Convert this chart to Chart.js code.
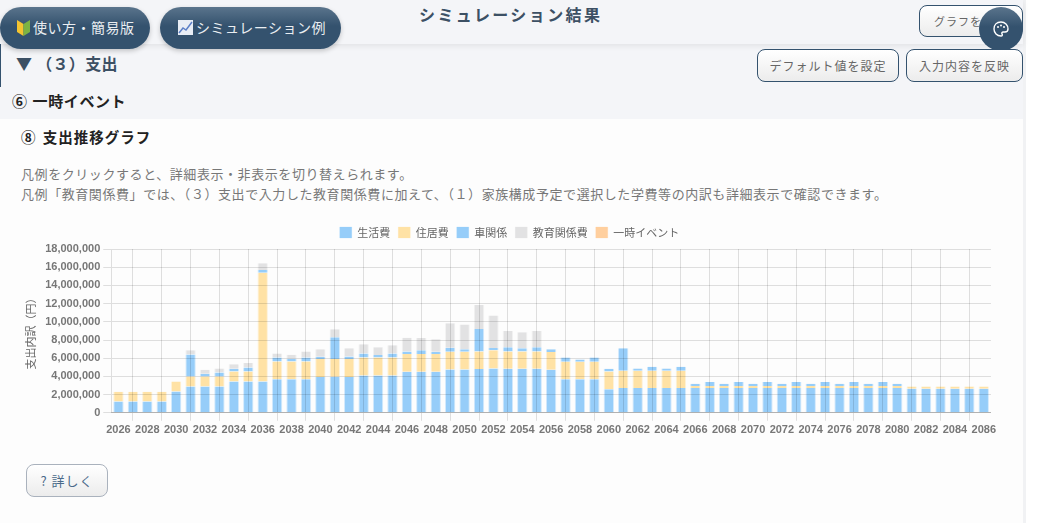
<!DOCTYPE html>
<html lang="ja">
<head>
<meta charset="utf-8">
<script src="https://cdn.jsdelivr.net/npm/chart.js@4"></script>
<style>
html, body { margin: 0; padding: 0; background: #fff; overflow: hidden; }
body { width: 1049px; height: 523px; position: relative; font-family: "Noto Sans CJK JP", sans-serif; }
.abs { position: absolute; white-space: nowrap; }
#main { left: 0; top: 0; width: 1023px; height: 523px; background: #f4f5f8; }
#card { left: 0; top: 119px; width: 1023px; height: 404px; background: #fdfdfd; }
#strip { left: 1023px; top: 0; width: 3px; height: 523px; background: #f1f2f4; }
#header { left: 0; top: 0; width: 1023px; height: 44px; background: #f4f5f8; box-shadow: 0 2px 6px rgba(0,0,0,0.08); }
.pill { height: 42px; line-height: 40px; border-radius: 21px; color: #e9edf1; font-size: 14px; letter-spacing: .5px;
  background: linear-gradient(#5a748c, #34526e 45%, #34526e); box-shadow: 0 2px 5px rgba(0,0,0,0.2); box-sizing: border-box; }
.btn { box-sizing: border-box; border: 1px solid #34526e; border-radius: 8px; color: #666; font-size: 12px; letter-spacing: 1px; text-align: center;
  background: linear-gradient(#fff, #ececec); }
#title { left: 419px; top: 2px; font-size: 16px; font-weight: 700; letter-spacing: 2.4px; color: #3c5064; }
#sec { left: 16px; top: 51px; font-size: 16px; font-weight: 700; color: #3c5064; letter-spacing: .3px; }
#secline { left: 0; top: 44px; width: 1px; height: 43px; background: #34526e; }
#h6 { left: 12px; top: 90px; font-size: 15px; font-weight: 700; color: #222; letter-spacing: .6px; word-spacing: 1px; }
#h8 { left: 21px; top: 126px; font-size: 14.5px; font-weight: 700; color: #222; letter-spacing: 1px; word-spacing: 2px; }
.note { left: 21px; font-size: 13px; color: #777; letter-spacing: .57px; }
#chartBox { left: 20px; top: 219px; width: 979px; height: 221px; }
#palette { left: 979px; top: 7px; width: 44px; height: 44px; border-radius: 22px; background: linear-gradient(#5a748c, #34526e 45%); }
</style>
</head>
<body>
<div class="abs" id="main"></div>
<div class="abs" id="card"></div>
<div class="abs" id="strip"></div>
<div class="abs" id="header"></div>
<div class="abs" id="secline"></div>

<div class="abs pill" style="left:0;top:7px;width:150px;padding-left:33px;">使い方・簡易版</div>
<svg class="abs" style="left:17px;top:20px" width="13" height="16" viewBox="0 0 13 16">
  <path d="M0 0 L6.5 4 L6.5 16 L0 12 Z" fill="#f4c430"/><path d="M13 0 L6.5 4 L6.5 16 L13 12 Z" fill="#7cb342"/>
</svg>
<div class="abs pill" style="left:160px;top:7px;width:181px;padding-left:36px;">シミュレーション例</div>
<svg class="abs" style="left:178px;top:20px" width="15" height="15" viewBox="0 0 15 15">
  <rect width="15" height="15" fill="#e8edf5"/><path d="M1 13 L5 8 L8 10 L14 2" fill="none" stroke="#5b7fc7" stroke-width="1.5"/>
</svg>
<div class="abs" id="title">シミュレーション結果</div>

<div class="abs btn" style="left:919px;top:5px;width:104px;height:32px;line-height:30px;text-align:left;padding-left:14px;font-size:11px;">グラフを表示</div>
<div class="abs" id="palette"></div>
<svg class="abs" style="left:992px;top:20px" width="18" height="18" viewBox="0 0 18 18">
  <path d="M9 2 C4.6 2 2 5 2 9 C2 13 5 16 9 16 C10.5 16 10.6 14.8 10 14 C9.4 13 10 12 11.2 12 L13 12 C15 12 16 10.6 16 9 C16 5 13 2 9 2 Z" fill="none" stroke="#fff" stroke-width="1.4"/>
  <circle cx="6" cy="7" r="1" fill="#fff"/><circle cx="9" cy="5.4" r="1" fill="#fff"/><circle cx="12" cy="7" r="1" fill="#fff"/>
</svg>

<div class="abs" id="sec">▼ （３）支出</div>
<div class="abs btn" style="left:757px;top:49px;width:142px;height:33px;line-height:31px;">デフォルト値を設定</div>
<div class="abs btn" style="left:906px;top:49px;width:117px;height:33px;line-height:31px;">入力内容を反映</div>
<div class="abs" id="h6">⑥ 一時イベント</div>
<div class="abs" id="h8">⑧ 支出推移グラフ</div>
<div class="abs note" style="top:164px;">凡例をクリックすると、詳細表示・非表示を切り替えられます。</div>
<div class="abs note" style="top:184px;">凡例「教育関係費」では、（３）支出で入力した教育関係費に加えて、（１）家族構成予定で選択した学費等の内訳も詳細表示で確認できます。</div>

<div class="abs" id="chartBox"><canvas id="expenseChart"></canvas></div>

<div class="abs btn" style="left:26px;top:464px;width:82px;height:33px;line-height:31px;border-color:#aab2bd;font-size:13px;color:#4a6a8a;">? 詳しく</div>

<script>
const years = [];
for (let y = 2026; y <= 2086; y++) years.push(String(y));

const yTicks = [0, 2000000, 4000000, 6000000, 8000000, 10000000, 12000000, 14000000, 16000000, 18000000];

// 万円
const living = [125,125,125,125,235,290,290,290,345,345,345,370,370,370,393,396,393,411,411,411,451,451,451,477,477,481,488,484,484,484,473,370,370,370,260,272,272,272,272,272,272,272,272,272,272,272,272,272,272,272,272,272,272,272,272,264,264,264,264,264,264];
const housing = [106,106,106,106,110,110,110,110,110,110,1195,195,195,195,197,195,197,198,198,198,195,195,195,195,195,194,198,191,191,191,195,192,192,192,195,190,190,190,190,190,22,22,22,22,22,22,22,22,22,22,22,22,22,22,22,26,26,26,26,26,26];
const car = [0,0,0,0,0,242,30,44,30,44,30,44,30,44,27,240,30,44,26,44,29,40,26,44,25,246,26,44,33,44,29,47,25,47,29,246,26,44,26,44,25,44,25,44,25,44,25,44,25,44,25,44,25,44,25,0,0,0,0,0,0];
const education = [0,0,0,0,0,44,43,44,48,48,74,43,43,65,80,87,88,99,84,88,151,136,135,268,272,264,356,180,176,180,0,0,0,0,0,0,0,0,0,0,0,0,0,0,0,0,0,0,0,0,0,0,0,0,0,0,0,0,0,0,0];
const oneTime = new Array(61).fill(0);

const seriesNames = ["生活費", "住居費", "車関係", "教育関係費", "一時イベント"];
const seriesValues = [living, housing, car, education, oneTime];
const seriesColors = ["rgba(144,202,249,", "rgba(255,224,160,", "rgba(144,202,249,", "rgba(224,224,226,", "rgba(255,204,153,"];

const gridColor = "rgba(0,0,0,0.12)";

// extra room under the legend
const legendGap = {
    id: "legendGap",
    beforeInit(chart) {
        const fit = chart.legend.fit;
        chart.legend.fit = function () {
            fit.call(this);
            this.height += 1;
        };
    }
};

new Chart(document.getElementById("expenseChart"), {
    type: "bar",
    plugins: [legendGap],
    data: {
        labels: years,
        datasets: seriesNames.map((name, i) => ({
            label: name,
            data: seriesValues[i].map(v => v * 10000),
            backgroundColor: seriesColors[i] + "0.95)",
            borderColor: seriesColors[i] + "0.4)",
            borderWidth: { left: 1, right: 1, top: 0, bottom: 0 }
        }))
    },
    options: {
        responsive: true,
        maintainAspectRatio: false,
        animation: false,
        plugins: {
            legend: {
                labels: { boxWidth: 12, boxHeight: 11, font: { size: 11, family: "'Noto Sans CJK JP'" }, color: "#666", padding: 8 }
            }
        },
        scales: {
            x: {
                stacked: true,
                border: { z: 1, color: "rgba(0,0,0,0.2)" },
                grid: {
                    offset: false,
                    z: 1,
                    color: ctx => ctx.index % 2 === 1 ? gridColor : "transparent",
                    tickColor: ctx => ctx.index % 2 === 1 ? gridColor : "transparent"
                },
                ticks: {
                    autoSkip: false,
                    maxRotation: 0,
                    color: "#777",
                    font: { size: 11, family: "'Liberation Sans'", weight: "bold" },
                    callback: function (v, i) { return i % 2 === 0 ? years[i] : ""; }
                }
            },
            y: {
                stacked: true,
                min: 0,
                max: 18000000,
                afterBuildTicks: axis => { axis.ticks = yTicks.map(v => ({ value: v })); },
                border: { z: 1, color: gridColor },
                grid: { color: gridColor, z: 1 },
                ticks: {
                    color: "#777",
                    font: { size: 11, family: "'Liberation Sans'", weight: "bold" },
                    callback: v => v.toLocaleString("en-US")
                },
                title: { display: true, text: "支出内訳（円）", color: "#666", font: { size: 11, family: "'Noto Sans CJK JP'" }, padding: { top: 4, bottom: 5 } }
            }
        }
    }
});
</script>
</body>
</html>
